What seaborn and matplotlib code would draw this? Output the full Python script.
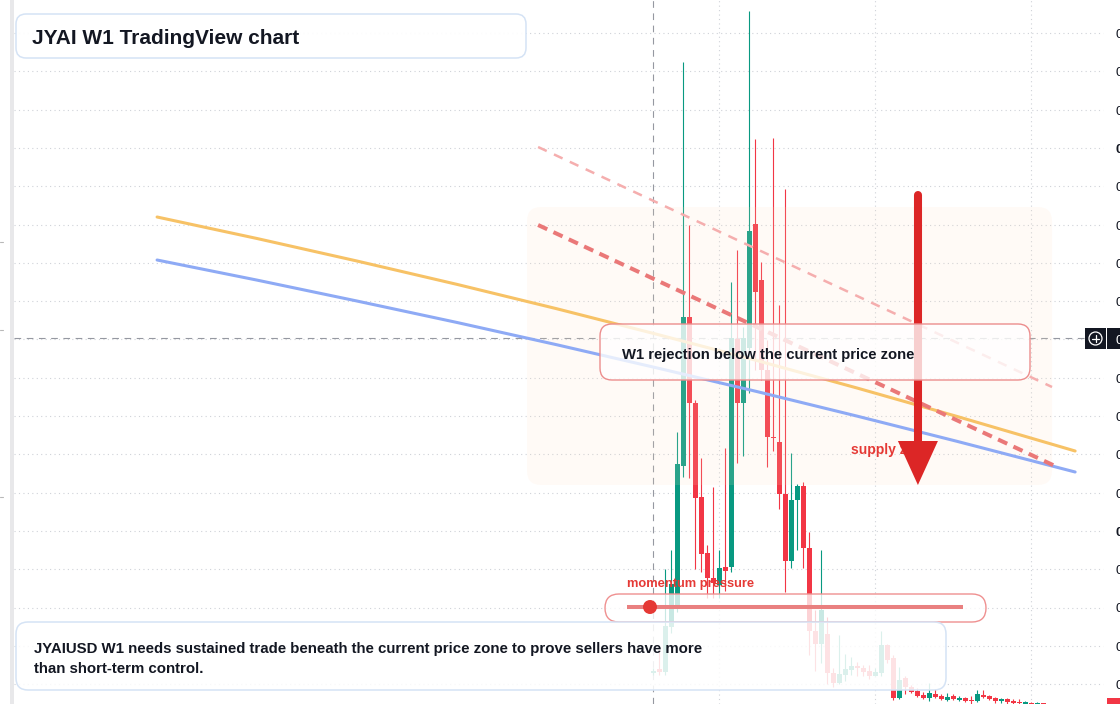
import numpy as np
import pandas as pd
import matplotlib.pyplot as plt
import seaborn as sns
from matplotlib.colors import to_rgba
from matplotlib.lines import Line2D
from matplotlib.patches import Circle, FancyBboxPatch, Polygon, Rectangle
from matplotlib.transforms import IdentityTransform

# JYAIUSD weekly candles (bar index 0 = first listed week)
opens = [0.00067, 0.00071, 0.00068, 0.00113, 0.00135, 0.00274, 0.00423, 0.00337, 0.00243, 0.00187,
         0.00162, 0.00155, 0.00173, 0.00173, 0.00401, 0.00337, 0.00392, 0.00516, 0.00460, 0.00370,
         0.00303, 0.00298, 0.00246, 0.00179, 0.00240, 0.00254, 0.00192, 0.00109, 0.00096, 0.00106,
         0.00067, 0.00057, 0.00065, 0.00070, 0.00074, 0.00072, 0.00069, 0.00064, 0.00067, 0.00095,
         0.00082, 0.00042, 0.00062, 0.00053, 0.00049, 0.00045, 0.00042, 0.00046, 0.00044, 0.00040,
         0.00044, 0.00040, 0.00042, 0.00040, 0.00039, 0.00045, 0.00044, 0.00042, 0.00039, 0.00041,
         0.00039, 0.00038, 0.00036, 0.00037, 0.00036, 0.00037]
closes = [0.00069, 0.00068, 0.00114, 0.00156, 0.00276, 0.00423, 0.00337, 0.00242, 0.00186, 0.00162,
          0.00157, 0.00172, 0.00169, 0.00402, 0.00337, 0.00402, 0.00509, 0.00448, 0.00370, 0.00303,
          0.00302, 0.00246, 0.00179, 0.00240, 0.00254, 0.00192, 0.00109, 0.00096, 0.00130, 0.00067,
          0.00057, 0.00066, 0.00071, 0.00074, 0.00072, 0.00068, 0.00064, 0.00068, 0.00095, 0.00080,
          0.00042, 0.00060, 0.00053, 0.00048, 0.00044, 0.00042, 0.00047, 0.00043, 0.00041, 0.00043,
          0.00041, 0.00042, 0.00039, 0.00039, 0.00046, 0.00043, 0.00041, 0.00039, 0.00041, 0.00038,
          0.00037, 0.00037, 0.00038, 0.00036, 0.00037, 0.00036]
highs = [0.00072, 0.00090, 0.00171, 0.00190, 0.00308, 0.00678, 0.00515, 0.00340, 0.00282, 0.00195,
         0.00253, 0.00190, 0.00292, 0.00458, 0.00490, 0.00413, 0.00729, 0.00601, 0.00478, 0.00400,
         0.00602, 0.00435, 0.00551, 0.00287, 0.00256, 0.00258, 0.00208, 0.00130, 0.00190, 0.00123,
         0.00072, 0.00105, 0.00086, 0.00083, 0.00078, 0.00075, 0.00075, 0.00072, 0.00109, 0.00096,
         0.00085, 0.00073, 0.00064, 0.00055, 0.00052, 0.00048, 0.00057, 0.00051, 0.00046, 0.00047,
         0.00046, 0.00044, 0.00043, 0.00044, 0.00050, 0.00050, 0.00045, 0.00043, 0.00042, 0.00042,
         0.00041, 0.00041, 0.00039, 0.00038, 0.00038, 0.00037]
lows = [0.00065, 0.00065, 0.00065, 0.00107, 0.00128, 0.00263, 0.00262, 0.00171, 0.00168, 0.00142,
        0.00142, 0.00142, 0.00149, 0.00168, 0.00277, 0.00284, 0.00347, 0.00370, 0.00360, 0.00273,
        0.00289, 0.00231, 0.00148, 0.00172, 0.00190, 0.00172, 0.00085, 0.00069, 0.00077, 0.00056,
        0.00053, 0.00056, 0.00059, 0.00065, 0.00064, 0.00064, 0.00061, 0.00064, 0.00064, 0.00077,
        0.00040, 0.00041, 0.00046, 0.00047, 0.00043, 0.00041, 0.00039, 0.00042, 0.00040, 0.00039,
        0.00040, 0.00039, 0.00038, 0.00034, 0.00038, 0.00042, 0.00040, 0.00037, 0.00037, 0.00035,
        0.00034, 0.00034, 0.00034, 0.00034, 0.00034, 0.00034]

# moving averages drawn on the chart
ma_x = [-82.7, -66.05, -49.4, -32.7, -16.05, 0.6, 17.3, 33.95, 50.6, 70.3]
ma_orange = [0.00523, 0.005015, 0.00479, 0.004556, 0.004312, 0.004057, 0.003794, 0.00352,
             0.003236, 0.00289]
ma_blue = [0.0048, 0.004599, 0.00439, 0.004175, 0.003952, 0.003721, 0.003484, 0.003239,
           0.002987, 0.00268]

# descending trendlines
upper_x = [-19.2, 66.45]
upper_y = [0.00593, 0.00353]
lower_x = [-19.2, 66.95]
lower_y = [0.00515, 0.00274]

# supply zone and arrow
zone_x = (-21.05, 66.45)
zone_y = (0.00255, 0.00533)
arrow_x = 44.1
arrow_top = 0.00545
arrow_tip = 0.00255

cross_x = 0
cross_price = 0.00402
price_ticks = [0.00707, 0.006687, 0.006304, 0.005921, 0.005538, 0.005155, 0.004772, 0.004389,
               0.004006, 0.003623, 0.00324, 0.002857, 0.002474, 0.002091, 0.001708, 0.001325,
               0.000942, 0.000559]
time_grid = [11, 37, 63]

GREEN = '#089981'
RED = '#f23645'
INK = '#131722'
W, H = 1120, 704

sns.set_theme(style='white')
plt.rcParams['font.family'] = ['Liberation Sans', 'DejaVu Sans']

fig = plt.figure(figsize=(W / 100, H / 100), dpi=100)
ax = fig.add_axes([0, 0, 1, 1])
ax.set_xlim(-108.88, 77.78)
ax.set_ylim(0.00036, 0.0074)
ax.axis('off')
PX = IdentityTransform()


def box(x0, y0, x1, y1, r, fc, ec, lw, z):
    ax.add_patch(FancyBboxPatch((x0, H - y1), x1 - x0, y1 - y0,
                                boxstyle=f'round,pad=0,rounding_size={r}',
                                transform=PX, fc=fc, ec=ec, lw=lw, zorder=z))


def label(x, y, s, dy=2, **kw):
    ax.text(x, H - y - dy, s, transform=PX, va='center', ha='left', **kw)


# frame bits
ax.add_patch(Rectangle((10, 0), 4, H, transform=PX, fc='#e8e8ea', ec='none', zorder=0.5))
for y in [242, 330, 497]:
    ax.add_line(Line2D([0, 3], [H - y, H - y], transform=PX, color='#b8b8b8', lw=0.8))

# grid
for t in price_ticks:
    ax.axhline(t, xmin=14 / W, xmax=1103 / W, color='#cfd2d8', lw=0.8, ls=(0, (1, 3)), zorder=1)
for v in time_grid:
    ax.axvline(v, color='#cfd2d8', lw=0.8, ls=(0, (1, 3)), zorder=1)

# crosshair
ax.axvline(cross_x, color='#9598a1', lw=0.8, ls=(0, (6, 5)), zorder=2)
ax.axhline(cross_price, xmin=14 / W, xmax=1085 / W, color='#9598a1', lw=0.8, ls=(0, (6, 5)), zorder=2)

# candles
df = pd.DataFrame({'open': opens, 'close': closes, 'high': highs, 'low': lows})
df['idx'] = np.arange(len(df))
colors = np.where(df['close'] >= df['open'], GREEN, RED)
body_low = np.minimum(df['open'], df['close'])
body_h = np.maximum((df['close'] - df['open']).abs(), 0.00001)
ax.vlines(df['idx'], df['low'], df['high'], colors=colors, lw=0.8, zorder=3)
ax.bar(df['idx'], body_h, bottom=body_low, width=0.75, color=colors, linewidth=0, zorder=3.1)

# supply zone tint
(zx0, zy0), (zx1, zy1) = ax.transData.transform([(zone_x[0], zone_y[0]), (zone_x[1], zone_y[1])])
ax.add_patch(FancyBboxPatch((zx0, zy0), zx1 - zx0, zy1 - zy0, boxstyle='round,pad=0,rounding_size=14',
                            transform=PX, fc=to_rgba('#ffe0c4', 0.14), ec='none', zorder=3.5))

# moving averages and trendlines
sns.lineplot(x=ma_x, y=ma_orange, ax=ax, color='#f7c266', lw=2.2, zorder=4)
sns.lineplot(x=ma_x, y=ma_blue, ax=ax, color='#8eaaf5', lw=2.2, zorder=4)
ax.plot(upper_x, upper_y, color='#f5aeae', lw=1.8, dashes=(3.8, 3.2), zorder=4)
ax.plot(lower_x, lower_y, color='#ea7878', lw=2.9, dashes=(2.5, 1.7), zorder=4)

# supply label and arrow
label(851, 448, 'supply zone', color='#e53935', fontsize=10, fontweight='bold', zorder=5)
ax_px, top_px = ax.transData.transform((arrow_x, arrow_top))
_, tip_px = ax.transData.transform((arrow_x, arrow_tip))
ax.add_line(Line2D([ax_px, ax_px], [top_px, tip_px + 40], transform=PX, color='#dc2626', lw=5.8,
                   solid_capstyle='round', zorder=6))
ax.add_patch(Polygon([[ax_px - 20, tip_px + 44], [ax_px + 20, tip_px + 44], [ax_px, tip_px]],
                     closed=True, transform=PX, fc='#dc2626', ec='none', zorder=6))

# rejection callout
box(600, 324, 1030, 380, 12, to_rgba('white', 0.78), '#ec8d8d', 1.0, 7)
label(622, 353, 'W1 rejection below the current price zone', color=INK, fontsize=10.75,
      fontweight='bold', zorder=8)

# momentum pill
label(627, 582, 'momentum pressure', color='#e53935', fontsize=9.3, fontweight='bold', zorder=8)
box(605, 594, 986, 622, 14, to_rgba('white', 0.78), '#ef9090', 1.0, 7)
ax.add_line(Line2D([627, 963], [H - 607, H - 607], transform=PX, color='#e98080', lw=2.9,
                   solid_capstyle='butt', zorder=8))
ax.add_patch(Circle((650, H - 607), 7, transform=PX, fc='#e53935', ec='none', zorder=8.5))

# note box
box(16, 622, 946, 690, 12, to_rgba('white', 0.86), '#d5e3f5', 1.1, 7)
label(34, 647, 'JYAIUSD W1 needs sustained trade beneath the current price zone to prove sellers have more',
      color=INK, fontsize=10.8, fontweight='bold', zorder=8)
label(34, 667, 'than short-term control.', color=INK, fontsize=10.8, fontweight='bold', zorder=8)

# title box
box(16, 14, 526, 58, 10, to_rgba('white', 0.94), '#d5e3f5', 1.1, 7)
label(32, 36, 'JYAI W1 TradingView chart', dy=3, color=INK, fontsize=15, fontweight='bold', zorder=8)

# price scale labels (clipped by the right edge, as on the reference)
for i, t in enumerate(price_ticks):
    if i == 8:
        continue
    y_disp = ax.transData.transform((0, t))[1]
    label(1115, H - y_disp, f'{t:.5f}', color=INK, fontsize=9.5,
          fontweight='bold' if i in (3, 13) else 'normal', zorder=9)

# crosshair price tag
ax.add_patch(Rectangle((1085, H - 349), 21, 21, transform=PX, fc=INK, ec='none', zorder=9))
ax.add_patch(Rectangle((1107, H - 349), 15, 21, transform=PX, fc=INK, ec='none', zorder=9))
ax.add_patch(Circle((1095.5, H - 338.5), 6.5, transform=PX, fc='none', ec='white', lw=0.9, zorder=10))
ax.add_line(Line2D([1092, 1099], [H - 338.5] * 2, transform=PX, color='white', lw=0.9, zorder=10))
ax.add_line(Line2D([1095.5] * 2, [H - 342, H - 335], transform=PX, color='white', lw=0.9, zorder=10))
label(1115, 338.5, '0.00402', color='white', fontsize=9.5, zorder=10)
ax.add_patch(Rectangle((1107, 0), 15, 6, transform=PX, fc=RED, ec='none', zorder=9))

fig.savefig('out.png', dpi=100)
